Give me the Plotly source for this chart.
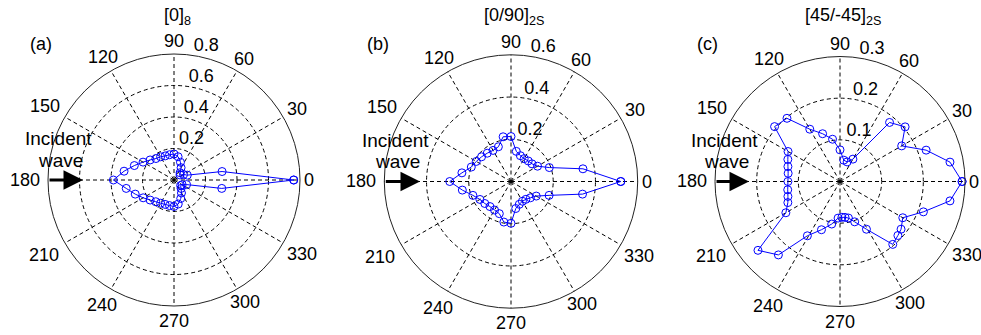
import math
import plotly.graph_objects as go

# ---- measured scattering patterns (angle in degrees, normalised amplitude) ----
theta_a = [0, 10, 20, 30, 40, 50, 60, 70, 80, 90, 100, 110, 120, 130, 140, 150, 160, 170,
           180, 190, 200, 210, 220, 230, 240, 250, 260, 270, 280, 290, 300, 310, 320, 330,
           340, 350, 360]
r_a = [0.76, 0.31, 0.09, 0.07, 0.05, 0.06, 0.09, 0.12, 0.15, 0.165, 0.163, 0.163, 0.17, 0.178,
       0.198, 0.227, 0.268, 0.322, 0.385, 0.308, 0.262, 0.226, 0.198, 0.18, 0.17, 0.165, 0.165,
       0.168, 0.155, 0.125, 0.095, 0.07, 0.055, 0.06, 0.085, 0.308, 0.76]

theta_b = [0, 10, 20, 30, 40, 50, 60, 70, 80, 90, 100, 110, 120, 130, 140, 150, 160, 170,
           180, 190, 200, 210, 220, 230, 240, 250, 260, 270, 280, 290, 300, 310, 320, 330,
           340, 350, 360]
r_b = [0.52, 0.346, 0.193, 0.145, 0.13, 0.127, 0.125, 0.13, 0.145, 0.213, 0.215, 0.175, 0.17,
       0.175, 0.182, 0.19, 0.2, 0.236, 0.29, 0.234, 0.192, 0.17, 0.162, 0.155, 0.156, 0.162,
       0.195, 0.198, 0.13, 0.115, 0.108, 0.11, 0.12, 0.138, 0.192, 0.344, 0.52]

theta_c = [0, 10, 20, 30, 40, 50, 60, 70, 80, 90, 100, 110, 120, 130, 140, 150, 157, 164, 171,
           180, 189, 196, 202, 210, 220, 230, 239, 249, 259, 267, 273, 278, 283, 290, 299, 310,
           317, 322, 330, 340, 350, 360]
r_c = [0.293, 0.268, 0.22, 0.171, 0.204, 0.185, 0.062, 0.05, 0.052, 0.076, 0.103, 0.122, 0.145,
       0.198, 0.205, 0.144, 0.136, 0.13, 0.126, 0.125, 0.127, 0.13, 0.135, 0.15, 0.257, 0.23,
       0.152, 0.124, 0.104, 0.088, 0.086, 0.087, 0.09, 0.103, 0.131, 0.197, 0.19, 0.186, 0.174,
       0.213, 0.268, 0.293]

# ---- axis setup ----
angle_ticks = [0, 30, 60, 90, 120, 150, 180, 210, 240, 270, 300, 330]
rings_a = [0.2, 0.4, 0.6, 0.8]
rings_b = [0.2, 0.4, 0.6]
rings_c = [0.1, 0.2, 0.3]
titles = ["[0]<sub>8</sub>", "[0/90]<sub>2S</sub>", "[45/-45]<sub>2S</sub>"]
letters = ["(a)", "(b)", "(c)"]

# angle-label distance from the centre, as a fraction of the outer ring radius
LABEL_RFAC = [1.07, 1.13, 1.11, 1.10, 1.13, 1.18, 1.185, 1.19, 1.15, 1.12, 1.12, 1.17]

W, H = 981, 335
FONT = "Liberation Sans, Arial, sans-serif"
BLUE = "#0000ff"

# (centre x, centre y, radius) of each polar plot, in pixels
panels = [(174, 180, 126), (511, 181.5, 126.7), (840, 181.5, 125)]
datasets = [(theta_a, r_a, rings_a), (theta_b, r_b, rings_b), (theta_c, r_c, rings_c)]

fig = go.Figure()
layout_polars = {}
annotations = []


def text_note(x_px, y_px, text, size=18):
    return dict(x=x_px / W, y=1 - y_px / H, xref="paper", yref="paper", text=text,
                showarrow=False, xanchor="center", yanchor="middle",
                font=dict(family=FONT, size=size, color="black"))


for i, ((cx, cy, R), (th, rr, rings)) in enumerate(zip(panels, datasets)):
    name = "polar" if i == 0 else f"polar{i + 1}"
    rmax = rings[-1]

    layout_polars[name] = dict(
        domain=dict(x=[(cx - R) / W, (cx + R) / W], y=[1 - (cy + R) / H, 1 - (cy - R) / H]),
        bgcolor="white",
        radialaxis=dict(range=[0, rmax], tickvals=rings, showticklabels=False, ticks="",
                        showline=False, gridcolor="black", gridwidth=1, griddash="4px,3px"),
        angularaxis=dict(tickvals=angle_ticks, showticklabels=False, ticks="",
                         showline=True, linecolor="#222222", linewidth=1,
                         gridcolor="black", gridwidth=1, griddash="4px,3px",
                         rotation=0, direction="counterclockwise"),
    )

    # the pattern itself
    fig.add_trace(go.Scatterpolar(
        r=rr, theta=th, mode="lines+markers", subplot=name,
        line=dict(color=BLUE, width=1),
        marker=dict(symbol="circle-open", size=8, color=BLUE, line=dict(width=1)),
        showlegend=False, hoverinfo="skip"))

    # ring labels
    fig.add_trace(go.Scatterpolar(
        r=rings, theta=[81] * len(rings), mode="text", subplot=name,
        text=[f"{v:g}" for v in rings], textposition="top right",
        textfont=dict(family=FONT, size=18, color="black"),
        cliponaxis=False, showlegend=False, hoverinfo="skip"))

    # angle labels just outside the rim
    for a, f in zip(angle_ticks, LABEL_RFAC):
        rad = math.radians(a)
        annotations.append(text_note(cx + f * R * math.cos(rad), cy - f * R * math.sin(rad), str(a)))

    # title, panel letter and the incident-wave marker
    annotations.append(text_note(cx + 3, 16, titles[i]))
    annotations.append(text_note(cx - 133, 44, letters[i]))
    annotations.append(text_note(cx - 116, cy - 41, "Incident", 19))
    annotations.append(text_note(cx - 114, cy - 20, "wave", 19))
    annotations.append(dict(x=(cx - 91) / W, y=1 - cy / H, xref="paper", yref="paper",
                            ax=-(R - 91), ay=0, text="", showarrow=True,
                            arrowhead=2, arrowsize=1.3, arrowwidth=3, arrowcolor="black"))

fig.update_layout(
    width=W, height=H,
    margin=dict(l=0, r=0, t=0, b=0),
    paper_bgcolor="white", plot_bgcolor="white",
    font=dict(family=FONT, size=18, color="black"),
    annotations=annotations,
    showlegend=False,
    **layout_polars,
)

fig.write_html("out.html")
